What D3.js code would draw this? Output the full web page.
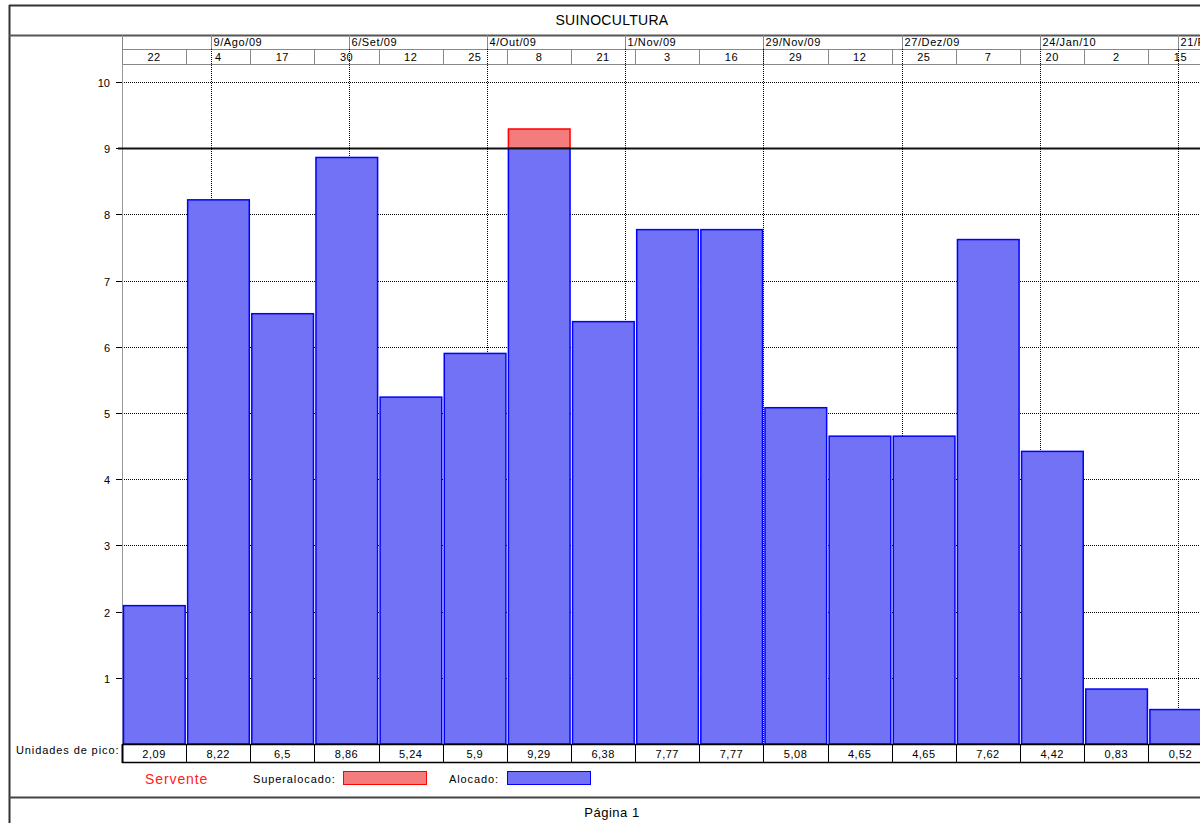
<!DOCTYPE html>
<html><head><meta charset="utf-8">
<script src="https://cdn.jsdelivr.net/npm/d3@7"></script>
<style>html,body{margin:0;padding:0;background:#fff;overflow:hidden}text{font-family:"Liberation Sans",Arial,sans-serif}</style>
</head><body>
<svg id="c" width="1200" height="823"></svg>
<script>
const title = "SUINOCULTURA";
const startDate = new Date(2009, 6, 22);
const stepDays = 13;
const dayLabels = ["22","4","17","30","12","25","8","21","3","16","29","12","25","7","20","2","15"];
const values = [2.09,8.22,6.5,8.86,5.24,5.9,9.29,6.38,7.77,7.77,5.08,4.65,4.65,7.62,4.42,0.83,0.52];
const valueLabels = ["2,09","8,22","6,5","8,86","5,24","5,9","9,29","6,38","7,77","7,77","5,08","4,65","4,65","7,62","4,42","0,83","0,52"];
const monthDates = [new Date(2009,7,9),new Date(2009,8,6),new Date(2009,9,4),new Date(2009,10,1),new Date(2009,10,29),new Date(2009,11,27),new Date(2010,0,24),new Date(2010,1,21)];
const monthLabels = ["9/Ago/09","6/Set/09","4/Out/09","1/Nov/09","29/Nov/09","27/Dez/09","24/Jan/10","21/Fev/10"];
const yTicks = [1,2,3,4,5,6,7,8,9,10];
const capacity = 9;

const svg = d3.select("#c");
const blueFill = "#7272f6", redFill = "#f47c7c";

const x = d3.scaleTime().domain([startDate, new Date(2010,1,21)]).range([122,1178]);
const dayMs = 86400000;
const colStart = i => new Date(startDate.getTime() + i*stepDays*dayMs);
const y = d3.scaleLinear().domain([0,10]).range([744,82]);

// page frame
svg.append("line").attr("x1",9).attr("x2",1200).attr("y1",5.5).attr("y2",5.5).attr("stroke","#333").attr("stroke-width",2);
svg.append("line").attr("x1",9.5).attr("x2",9.5).attr("y1",5).attr("y2",823).attr("stroke","#333").attr("stroke-width",2);
svg.append("line").attr("x1",9).attr("x2",1200).attr("y1",35.5).attr("y2",35.5).attr("stroke","#555").attr("stroke-width",2);
svg.append("line").attr("x1",9).attr("x2",1200).attr("y1",797.5).attr("y2",797.5).attr("stroke","#444").attr("stroke-width",2);
svg.append("text").attr("x",612).attr("y",25).attr("text-anchor","middle").attr("font-size",14).attr("letter-spacing",0.3).text(title);
svg.append("text").attr("x",612).attr("y",817).attr("text-anchor","middle").attr("font-size",13).attr("letter-spacing",0.5).text("Página 1");

// header rows
const hdr = svg.append("g");
hdr.append("line").attr("x1",122).attr("x2",1200).attr("y1",49.5).attr("y2",49.5).attr("stroke","#888");
hdr.append("line").attr("x1",122).attr("x2",1200).attr("y1",64.5).attr("y2",64.5).attr("stroke","#888");
hdr.append("line").attr("x1",122.5).attr("x2",122.5).attr("y1",35).attr("y2",64).attr("stroke","#888");
monthDates.forEach((d,i)=>{
  const px = Math.round(x(d))+0.5;
  hdr.append("line").attr("x1",px).attr("x2",px).attr("y1",35).attr("y2",49).attr("stroke","#888");
  hdr.append("text").attr("x",px+2).attr("y",46).attr("font-size",11).attr("letter-spacing",0.6).text(monthLabels[i]);
});
dayLabels.forEach((l,i)=>{
  const x0 = x(colStart(i)), x1 = x(colStart(i+1));
  hdr.append("line").attr("x1",Math.round(x1)+0.5).attr("x2",Math.round(x1)+0.5).attr("y1",49).attr("y2",64).attr("stroke","#888");
  hdr.append("text").attr("x",(x0+x1)/2).attr("y",61).attr("text-anchor","middle").attr("font-size",11).attr("letter-spacing",0.5).text(l);
});

// grid
const grid = svg.append("g");
yTicks.filter(t=>t!==capacity).forEach(t=>{
  grid.append("line").attr("x1",122).attr("x2",1200).attr("y1",Math.round(y(t))+0.5).attr("y2",Math.round(y(t))+0.5)
    .attr("stroke","#000").attr("stroke-dasharray","1,1");
});
monthDates.forEach(d=>{
  const px = Math.round(x(d))+0.5;
  grid.append("line").attr("x1",px).attr("x2",px).attr("y1",49).attr("y2",744).attr("stroke","#000").attr("stroke-dasharray","1,1");
});

// y axis
const ya = svg.append("g");
ya.append("line").attr("x1",122.5).attr("x2",122.5).attr("y1",64).attr("y2",744).attr("stroke","#999");
yTicks.forEach(t=>{
  const py = Math.round(y(t))+0.5;
  ya.append("line").attr("x1",116).attr("x2",122).attr("y1",py).attr("y2",py).attr("stroke","#000");
  ya.append("text").attr("x",110).attr("y",py+4).attr("text-anchor","end").attr("font-size",11).text(t);
});

// bars
const bars = svg.append("g");
values.forEach((v,i)=>{
  const x0 = x(colStart(i))+1.5, x1 = x(colStart(i+1))-1;
  const blueTop = Math.min(v,capacity);
  bars.append("rect").attr("x",x0).attr("y",y(blueTop)).attr("width",x1-x0).attr("height",y(0)-y(blueTop))
    .attr("fill",blueFill).attr("stroke","#0000ff").attr("stroke-width",1.5);
  if(v>capacity){
    bars.append("rect").attr("x",x0).attr("y",y(v)).attr("width",x1-x0).attr("height",y(capacity)-y(v))
      .attr("fill",redFill).attr("stroke","#ff0000").attr("stroke-width",1.5);
  }
});

// capacity line
svg.append("line").attr("x1",118).attr("x2",1200).attr("y1",Math.round(y(capacity))+0.5).attr("y2",Math.round(y(capacity))+0.5)
  .attr("stroke","#111").attr("stroke-width",2);

// value row
const vr = svg.append("g");
vr.append("text").attr("x",16).attr("y",754).attr("font-size",11).attr("letter-spacing",0.9).text("Unidades de pico:");
vr.append("line").attr("x1",122).attr("x2",1200).attr("y1",744.5).attr("y2",744.5).attr("stroke","#000").attr("stroke-width",1.5);
vr.append("line").attr("x1",122).attr("x2",1200).attr("y1",762.5).attr("y2",762.5).attr("stroke","#000").attr("stroke-width",1.5);
vr.append("line").attr("x1",122.5).attr("x2",122.5).attr("y1",744).attr("y2",763).attr("stroke","#000").attr("stroke-width",2);
valueLabels.forEach((l,i)=>{
  const x0 = x(colStart(i)), x1 = x(colStart(i+1));
  vr.append("line").attr("x1",Math.round(x1)+0.5).attr("x2",Math.round(x1)+0.5).attr("y1",744).attr("y2",763).attr("stroke","#000");
  vr.append("text").attr("x",(x0+x1)/2).attr("y",758).attr("text-anchor","middle").attr("font-size",11).attr("letter-spacing",0.5).text(l);
});

// legend
const lg = svg.append("g");
lg.append("text").attr("x",145).attr("y",784).attr("font-size",14).attr("letter-spacing",0.9).attr("fill","#ff2020").text("Servente");
lg.append("text").attr("x",253).attr("y",783).attr("font-size",11).attr("letter-spacing",0.9).text("Superalocado:");
lg.append("rect").attr("x",343.5).attr("y",771.5).attr("width",83).attr("height",13).attr("fill",redFill).attr("stroke","#ff0000");
lg.append("text").attr("x",449).attr("y",783).attr("font-size",11).attr("letter-spacing",0.9).text("Alocado:");
lg.append("rect").attr("x",507.5).attr("y",771.5).attr("width",83).attr("height",13).attr("fill",blueFill).attr("stroke","#0000ff");
</script>
</body></html>
